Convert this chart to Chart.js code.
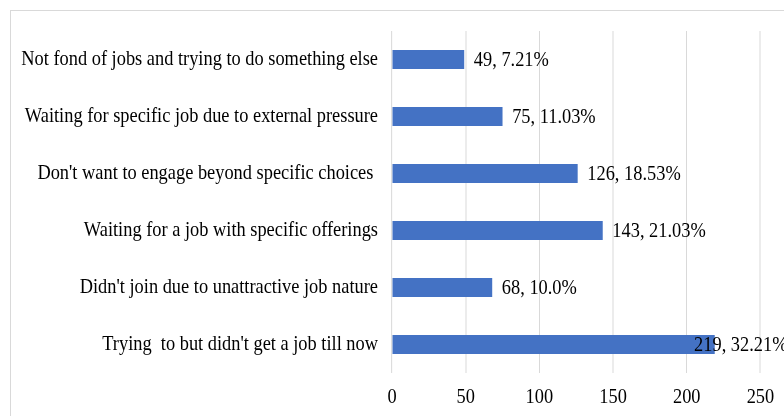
<!DOCTYPE html>
<html>
<head>
<meta charset="utf-8">
<script src="https://cdn.jsdelivr.net/npm/chart.js@4/dist/chart.umd.min.js"></script>
<style>
  html, body { margin: 0; padding: 0; background: #fff; overflow: hidden; width: 784px; height: 416px; }
  #frame { position: absolute; left: 10px; top: 10px; width: 900px; height: 500px; border: 1px solid #d9d9d9; }
  #wrap { position: absolute; left: 0; top: 0; }
</style>
</head>
<body>
<div id="frame"></div>
<div id="wrap"><canvas id="chart" width="981" height="416"></canvas></div>
<script>
// data
const categories = [
  'Not fond of jobs and trying to do something else',
  'Waiting for specific job due to external pressure',
  "Don't want to engage beyond specific choices ",
  'Waiting for a job with specific offerings',
  "Didn't join due to unattractive job nature",
  "Trying  to but didn't get a job till now"
];
const counts = [49, 75, 126, 143, 68, 219];
const percents = ['7.21%', '11.03%', '18.53%', '21.03%', '10.0%', '32.21%'];
const xMin = 0;
const xMax = 300;
const xStep = 50;

const SQUEEZE = 0.875;        // the source picture is narrowed horizontally
const LABEL_MAX_X = 900;      // labels are kept inside the frame
const FONT = '"Liberation Serif", "Times New Roman", serif';

// narrow everything horizontally, like the original image
const squeeze = {
  id: 'squeeze',
  beforeDraw(chart) { chart.ctx.save(); chart.ctx.scale(SQUEEZE, 1); },
  afterDraw(chart) { chart.ctx.restore(); }
};

// "count, percent" labels after each bar
const barLabels = {
  id: 'barLabels',
  afterDatasetsDraw(chart) {
    const ctx = chart.ctx;
    const meta = chart.getDatasetMeta(0);
    ctx.save();
    ctx.font = '21px ' + FONT;
    ctx.fillStyle = '#000';
    ctx.textBaseline = 'middle';
    meta.data.forEach((bar, i) => {
      const text = counts[i] + ', ' + percents[i];
      const w = ctx.measureText(text).width;
      const x = Math.min(bar.x + 11, LABEL_MAX_X - w);
      ctx.fillText(text, x, bar.y + 1);
    });
    ctx.restore();
  }
};

new Chart(document.getElementById('chart'), {
  type: 'bar',
  data: {
    labels: categories,
    datasets: [{
      data: counts,
      backgroundColor: '#4472c4',
      borderWidth: 0,
      barPercentage: 0.335,
      categoryPercentage: 1
    }]
  },
  plugins: [squeeze, barLabels],
  options: {
    indexAxis: 'y',
    responsive: false,
    devicePixelRatio: 1,
    animation: false,
    layout: { padding: { top: 31, right: 20, bottom: 0, left: 0 } },
    plugins: { legend: { display: false }, tooltip: { enabled: false } },
    scales: {
      x: {
        min: xMin,
        max: xMax,
        ticks: { stepSize: xStep, padding: 12, color: '#000', font: { family: FONT, size: 21 } },
        grid: { color: '#d9d9d9', lineWidth: 1 / SQUEEZE, drawTicks: false },
        border: { display: false },
        afterFit(scale) { scale.height = 43; }
      },
      y: {
        ticks: { padding: 8, color: '#000', font: { family: FONT, size: 21 } },
        grid: { display: false },
        border: { display: false },
        afterFit(scale) { scale.width = 448; }
      }
    }
  }
});
</script>
</body>
</html>
